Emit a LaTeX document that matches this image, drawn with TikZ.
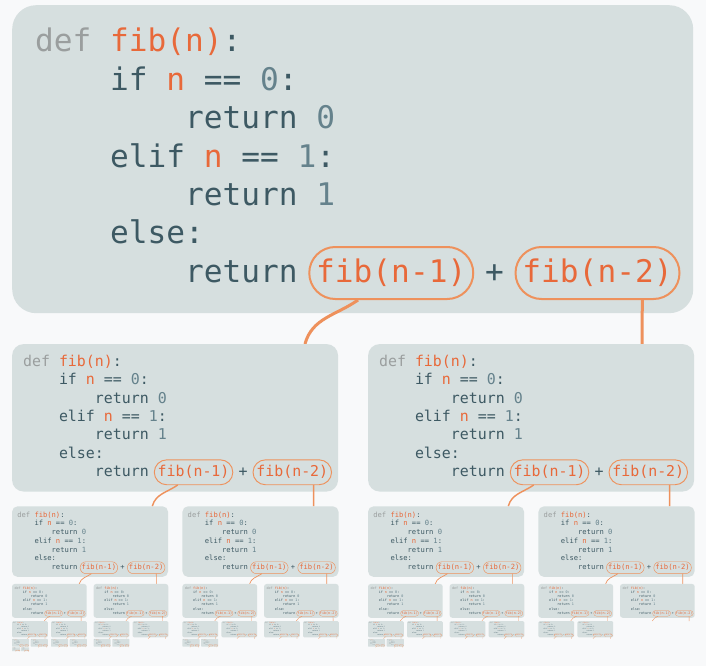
\documentclass[tikz,border=0pt]{standalone}
\usepackage{fontspec}
\newfontfamily\codefont{DejaVu Sans Mono}
\usetikzlibrary{calc}
\definecolor{bgc}{HTML}{F8F9FA}
\definecolor{boxc}{HTML}{D6DFDF}
\definecolor{codec}{HTML}{3D5963}
\definecolor{defc}{HTML}{9A9E9E}
\definecolor{orng}{HTML}{E8693A}
\definecolor{ovalc}{HTML}{EE915C}
\definecolor{numc}{HTML}{65828C}
\newcommand\cf{\codefont\fontsize{31.15}{32}\selectfont}
\tikzset{
  fibbox/.style={fill=boxc, rectangle, rounded corners=\rcb pt, minimum width=681pt,
    minimum height=308pt, inner sep=0pt, anchor=north west, scale=\fsc},
  code/.style={anchor=base west, inner sep=0pt, font=\cf, text=codec, scale=\fsc},
  oval/.style={draw=ovalc, line width=\lwo pt, rectangle, rounded corners=\rco pt,
    minimum width=164pt, minimum height=52pt, inner sep=0pt, text height=24pt,
    text depth=6pt, text=orng, font=\cf, scale=\fsc},
  conn/.style={draw=ovalc, line width=\lwc pt},
}
\newcommand\fibtree[2]{%
  \edef\nn{#1}%
  \pgfmathsetmacro\rcb{24*\fsc}%
  \pgfmathsetmacro\rco{26*\fsc}%
  \pgfmathsetmacro\lwo{2*\fsc}%
  \pgfmathsetmacro\lwc{3*\fsc}%
  \node[fibbox] (b#2) at (\fxo,\fyo) {};
  \node[code] (la#2) at ({\fxo+\fsc*23},{\fyo-\fsc*47}) {\textcolor{defc}{def} \textcolor{orng}{fib(n)}:};
  \node[code] (lb#2) at ({\fxo+\fsc*98},{\fyo-\fsc*85.3}) {if \textcolor{orng}{n} == \textcolor{numc}{0}:};
  \node[code] (lc#2) at ({\fxo+\fsc*173},{\fyo-\fsc*123.7}) {return \textcolor{numc}{0}};
  \node[code] (ld#2) at ({\fxo+\fsc*98},{\fyo-\fsc*162}) {elif \textcolor{orng}{n} == \textcolor{numc}{1}:};
  \node[code] (le#2) at ({\fxo+\fsc*173},{\fyo-\fsc*200.3}) {return \textcolor{numc}{1}};
  \node[code] (lf#2) at ({\fxo+\fsc*98},{\fyo-\fsc*238.7}) {else:};
  \node[code] (lg#2) at ({\fxo+\fsc*173},{\fyo-\fsc*277}) {return};
  \node[oval] (oa#2) at ({\fxo+\fsc*379.25},{\fyo-\fsc*268}) {fib(n-1)};
  \node[code] (pl#2) at ({\fxo+\fsc*473},{\fyo-\fsc*277}) {+};
  \node[oval] (ob#2) at ({\fxo+\fsc*585.5},{\fyo-\fsc*268}) {fib(n-2)};
  \coordinate (ea#2) at ({\fxo+\fsc*293},{\fyo-\fsc*339});
  \coordinate (eb#2) at ({\fxo+\fsc*630},{\fyo-\fsc*339});
  \draw[conn] ($(oa#2.south west)!0.3!(oa#2.south east)$) to[out=-145,in=75] (ea#2);
  \draw[conn] ($(ob#2.south west)!0.77!(ob#2.south east)$) -- (eb#2);
  \ifnum\nn>1
    \pgfmathtruncatemacro\na{\nn-1}%
    \pgfmathtruncatemacro\nb{\nn-2}%
    \begin{scope}
      \pgfmathsetmacro\fyo{\fyo-\fsc*339}%
      \pgfmathsetmacro\fsc{\fsc*0.4787}%
      \fibtree{\na}{#2L}%
    \end{scope}
    \begin{scope}
      \pgfmathsetmacro\fxo{\fxo+\fsc*356}%
      \pgfmathsetmacro\fyo{\fyo-\fsc*339}%
      \pgfmathsetmacro\fsc{\fsc*0.4787}%
      \fibtree{\nb}{#2R}%
    \end{scope}
  \fi
}
\begin{document}
\begin{tikzpicture}[x=1pt,y=1pt]
  \fill[bgc] (0,0) rectangle (706,-666);
  \useasboundingbox (0,0) rectangle (706,-666);
  \begin{scope}
    \def\fsc{1}\def\fxo{12}\def\fyo{-5}%
    \fibtree{7}{r}%
  \end{scope}
\end{tikzpicture}
\end{document}
